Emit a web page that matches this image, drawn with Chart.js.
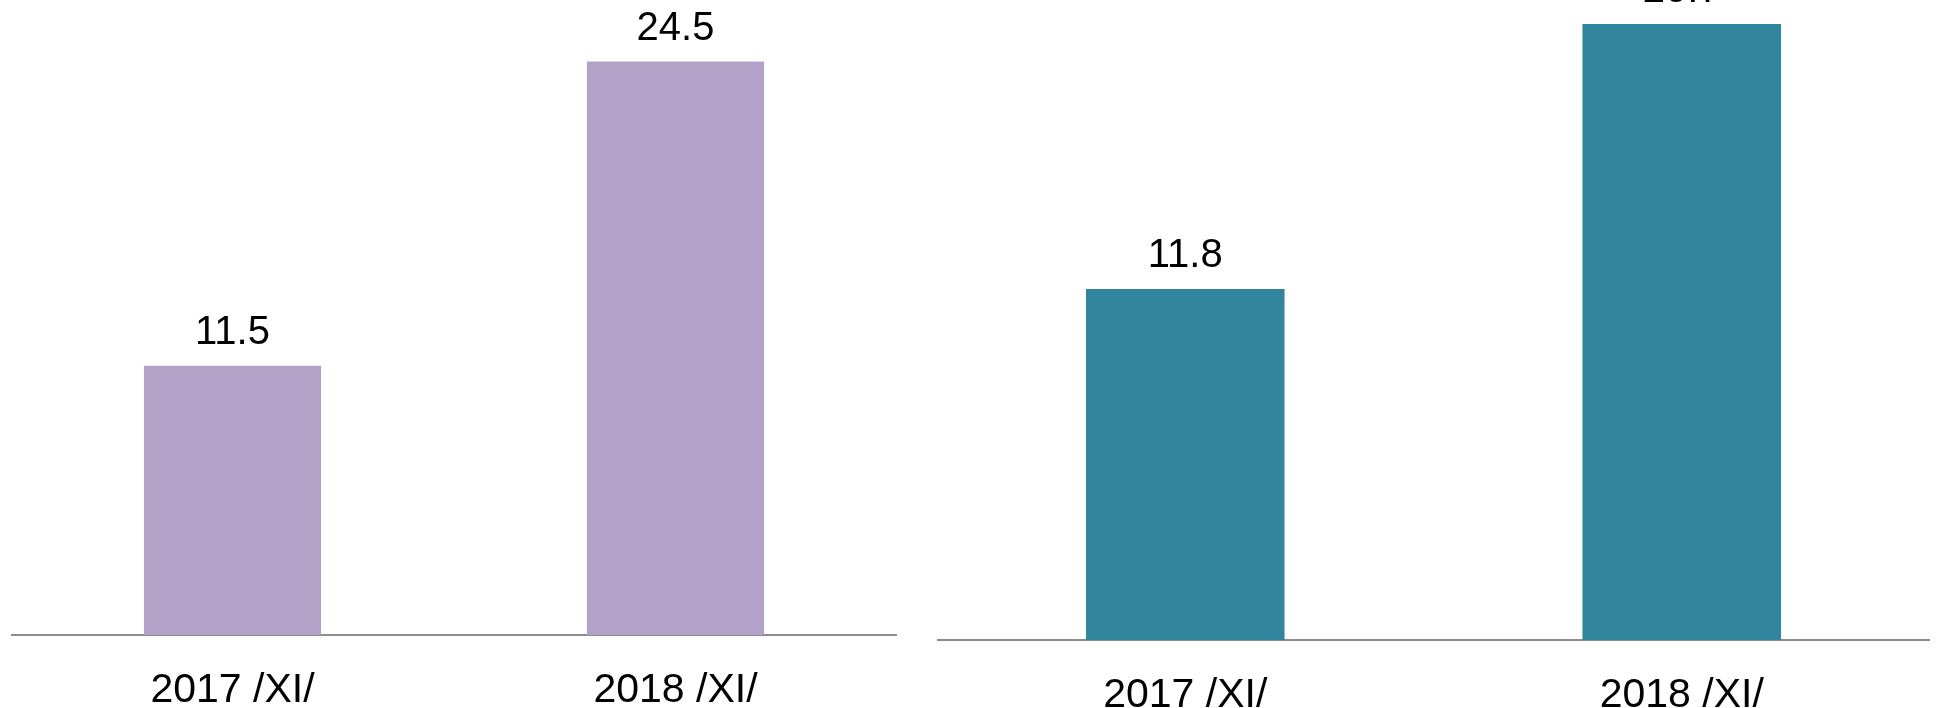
<!DOCTYPE html>
<html lang="en">
<head>
    <meta charset="UTF-8">
    <title>2017 /XI/ - 2018 /XI/</title>
    <script src="https://cdn.jsdelivr.net/npm/chart.js"></script>
    <style>
        body {
            margin: 0;
            width: 1939px;
            height: 708px;
            background: #fff;
            position: relative;
            overflow: hidden;
            font-family: "Liberation Sans", Arial, sans-serif;
        }

        .chart-box {
            position: absolute;
            top: 0;
            height: 708px;
        }

        #leftBox {
            left: 11px;
            width: 886px;
        }

        #rightBox {
            left: 937px;
            width: 993px;
        }
    </style>
</head>
<body>
<div class="chart-box" id="leftBox">
    <canvas id="leftChart"></canvas>
</div>
<div class="chart-box" id="rightBox">
    <canvas id="rightChart"></canvas>
</div>

<script>
    const categories = ['2017 /XI/', '2018 /XI/'];
    const leftValues = [11.5, 24.5];
    const rightValues = [11.8, 20.7];

    // draws the number above each bar
    const valueLabels = {
        id: 'valueLabels',
        afterDatasetsDraw(chart) {
            const ctx = chart.ctx;
            ctx.save();
            ctx.font = '40px "Liberation Sans", Arial, sans-serif';
            ctx.fillStyle = '#000';
            ctx.textAlign = 'center';
            ctx.textBaseline = 'alphabetic';
            chart.getDatasetMeta(0).data.forEach((bar, i) => {
                const v = chart.data.datasets[0].data[i];
                ctx.fillText(v.toFixed(1), bar.x, bar.y - 22);
            });
            ctx.restore();
        }
    };

    function renderChart(id, values, color, yMax, axisHeight) {
        const ctx = document.getElementById(id).getContext('2d');
        new Chart(ctx, {
            type: 'bar',
            data: {
                labels: categories,
                datasets: [{
                    data: values,
                    backgroundColor: color,
                    borderWidth: 0,
                    categoryPercentage: 1,
                    barPercentage: 0.4
                }]
            },
            options: {
                responsive: true,
                maintainAspectRatio: false,
                animation: false,
                layout: { padding: 0 },
                plugins: {
                    legend: { display: false },
                    tooltip: { enabled: false }
                },
                scales: {
                    x: {
                        grid: { display: false, drawTicks: false },
                        border: { display: true, color: '#8c8c8c', width: 2 },
                        ticks: {
                            color: '#000',
                            padding: 31,
                            font: { family: '"Liberation Sans", Arial, sans-serif', size: 41 }
                        },
                        afterFit(scale) {
                            scale.height = axisHeight;
                        }
                    },
                    y: {
                        display: false,
                        min: 0,
                        max: yMax
                    }
                }
            },
            plugins: [valueLabels]
        });
    }

    renderChart('leftChart', leftValues, '#b3a2c7', 27.13, 73);
    renderChart('rightChart', rightValues, '#31859c', 21.51, 68);
</script>
</body>
</html>
